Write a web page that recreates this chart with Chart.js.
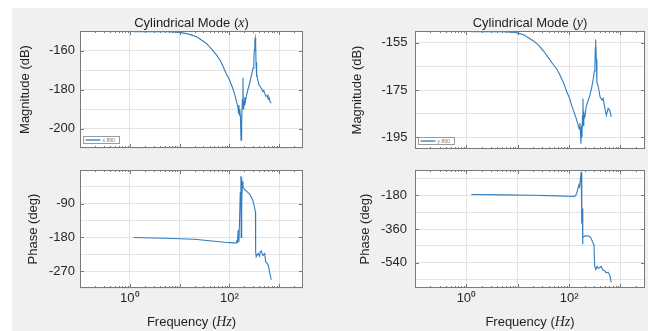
<!DOCTYPE html>
<html>
<head>
<meta charset="utf-8">
<script src="https://cdn.jsdelivr.net/npm/chart.js@4.4.1/dist/chart.umd.min.js"></script>
<style>
  html, body { margin: 0; padding: 0; background: #fff; }
  #fig { position: relative; width: 651px; height: 331px; overflow: hidden; }
  #bg { position: absolute; left: 12px; top: 8px; width: 636px; height: 323px; background: #f0f0f0; }
  canvas { position: absolute; left: 0; top: 0; }
</style>
</head>
<body>
<div id="fig">
  <div id="bg"></div>
  <canvas id="magX" width="651" height="331"></canvas>
  <canvas id="phaseX" width="651" height="331"></canvas>
  <canvas id="magY" width="651" height="331"></canvas>
  <canvas id="phaseY" width="651" height="331"></canvas>
</div>
<script>
// frequency axis (Hz), shared by all four panels
const xGridHz = [0.1, 1, 10, 100, 1000];
const xTickHz = [1, 100];
const xTickText = ['10\u2070', '10\u00B2'];

// Cylindrical mode x : magnitude
const magXHz = [1.2, 3, 6, 10, 13, 17, 22, 27, 35, 43, 54, 65, 74, 85, 100, 115, 126, 138, 148, 152,
  155, 158, 162, 166, 171, 174, 178, 182, 187, 190, 194, 198, 203, 210, 218, 235, 255, 275, 298, 310,
  318, 324, 330, 336, 342, 348, 356, 370, 392, 415, 436, 470, 490, 510, 540, 570, 600, 620, 650, 692];
const magXDb = [-150.3, -150.3, -150.4, -150.7, -151.2, -152, -153, -154.5, -156.5, -159, -162, -165, -168, -171.5, -175, -179, -182, -186, -189, -192,
  -188, -193, -190, -194, -206, -193, -197, -185, -174, -190, -186, -188, -184, -186, -183.5, -180, -176.8, -173, -169, -164,
  -159.5, -155, -153.5, -156, -166, -173.4, -172, -175, -177.7, -178.5, -179.4, -181, -180.5, -182, -183.5, -183, -185, -184, -186, -187];

// Cylindrical mode x : phase
const phaseXHz = [1.2, 5, 20, 50, 80, 107, 125, 137, 140, 145, 150, 155, 160, 165, 170, 172, 175, 178, 182, 187,
  200, 218, 253, 275, 296, 310, 333, 336, 345, 360, 380, 400, 420, 436, 470, 510, 535, 560, 600, 690];
const phaseXDeg = [-180, -182, -185, -190, -193, -194, -194.5, -195, -190, -192, -160, -193, -130, -60, -16, -180, -20, -90, -30, -45,
  -52, -56, -64.5, -72, -82, -92, -112, -218, -231, -226, -223, -230, -218, -216, -228, -223, -246, -248, -253, -293];

// Cylindrical mode y : magnitude
const magYHz = [1.25, 3, 5, 9, 13, 20, 26, 32, 40, 49, 57, 66, 78, 89, 102, 112, 125, 137, 148, 157,
  162, 166, 170, 174, 178, 182, 186, 189, 193, 197, 205, 215, 230, 252, 275, 294, 310, 318, 324, 326,
  332, 338, 347, 360, 380, 400, 438, 460, 490, 529, 575, 617, 660];
const magYDb = [-150.3, -150.3, -150.3, -150.6, -151.6, -154.1, -156.2, -158.6, -161.5, -164.2, -166, -168.5, -172, -175.5, -178.5, -181.5, -184.5, -187, -189.5, -191.5,
  -189, -193, -197.8, -190, -195, -186, -178.6, -190, -184, -187, -186, -182, -180, -177.5, -174, -170.5, -167, -164, -157, -153.6,
  -154, -162, -172, -172.5, -175, -177.9, -179.3, -178.5, -182.1, -185.7, -182.8, -183.5, -186.4];

// Cylindrical mode y : phase
const phaseYHz = [1.25, 5, 20, 60, 100, 127, 135, 142, 148, 155, 160, 165, 172, 175, 178, 180, 183, 186, 200, 216,
  235, 250, 270, 290, 305, 314, 330, 350, 370, 390, 420, 450, 490, 528, 575, 617, 660];
const phaseYDeg = [-176, -178, -180, -183, -185, -186, -180, -165, -144, -125, -135, -100, -54, -180, -330, -250, -441, -405, -398, -396,
  -397, -400, -412, -432, -445, -558, -576, -560, -570, -567, -560, -578, -582, -594, -590, -605, -645];

// y grid / labelled ticks
const magXGrid = [-210, -200, -190, -180, -170, -160, -150];
const magXTicks = [-200, -180, -160];
const magYGrid = [-195, -185, -175, -165, -155];
const magYTicks = [-195, -175, -155];
const phaseXGrid = [-315, -270, -225, -180, -135, -90, -45, 0];
const phaseXTicks = [-270, -180, -90];
const phaseYGrid = [-630, -540, -450, -360, -270, -180, -90];
const phaseYTicks = [-540, -360, -180];

const lineBlue = '#2f7dc0';
const sans = '"Liberation Sans", Arial, sans-serif';
const serif = '"Liberation Serif", "Times New Roman", serif';

function drawRich(ctx, parts, cx, baseY) {
  let w = 0;
  parts.forEach(p => { ctx.font = p.font; w += ctx.measureText(p.text).width; });
  let x = cx - w / 2;
  ctx.textAlign = 'left';
  ctx.textBaseline = 'alphabetic';
  ctx.fillStyle = '#1f1f1f';
  parts.forEach(p => {
    ctx.font = p.font;
    ctx.fillText(p.text, x, baseY);
    x += ctx.measureText(p.text).width;
  });
}

const figureFrame = {
  id: 'figureFrame',
  beforeDraw(chart) {
    const { ctx, chartArea: a } = chart;
    ctx.save();
    ctx.fillStyle = '#ffffff';
    ctx.fillRect(a.left, a.top, a.right - a.left, a.bottom - a.top);
    ctx.restore();
  },
  afterDraw(chart, args, o) {
    const { ctx, chartArea: a, scales } = chart;
    const x = scales.x, y = scales.y;
    ctx.save();
    ctx.strokeStyle = '#7a7a7a';
    ctx.lineWidth = 1;
    ctx.beginPath();
    xGridHz.forEach(d => {
      for (let k = 1; k < 10; k++) {
        const v = d * k;
        if (v <= x.min || v >= x.max) continue;
        const px = Math.round(x.getPixelForValue(v)) + 0.5;
        const len = k === 1 ? 4 : 2;
        ctx.moveTo(px, a.bottom); ctx.lineTo(px, a.bottom - len);
        ctx.moveTo(px, a.top); ctx.lineTo(px, a.top + len);
      }
    });
    o.yMajor.forEach(v => {
      const py = Math.round(y.getPixelForValue(v)) + 0.5;
      ctx.moveTo(a.left, py); ctx.lineTo(a.left + 4, py);
      ctx.moveTo(a.right, py); ctx.lineTo(a.right - 4, py);
    });
    ctx.stroke();
    ctx.strokeRect(Math.round(a.left) + 0.5, Math.round(a.top) + 0.5,
      Math.round(a.right - a.left) - 1, Math.round(a.bottom - a.top) - 1);

    if (o.legend) {
      const lx = a.left + 3.5, ly = a.bottom - 11.5;
      ctx.fillStyle = '#fff';
      ctx.fillRect(lx, ly, 36, 7);
      ctx.strokeStyle = '#9a9a9a';
      ctx.strokeRect(lx, ly, 36, 7);
      ctx.strokeStyle = lineBlue;
      ctx.lineWidth = 1.3;
      ctx.beginPath();
      ctx.moveTo(lx + 2, ly + 3.5); ctx.lineTo(lx + 17, ly + 3.5);
      ctx.stroke();
      ctx.fillStyle = '#777';
      ctx.font = '5px ' + sans;
      ctx.textBaseline = 'middle';
      ctx.fillText(o.legend, lx + 19, ly + 3.8);
    }
    const cx = (a.left + a.right) / 2;
    if (o.title) drawRich(ctx, o.title, cx, 26.5);
    if (o.xTitle) drawRich(ctx, o.xTitle, cx, 325.5);
    ctx.restore();
  }
};

function panel(id, c) {
  const a = c.area;
  const padLeft = c.yTitleX - 7.8 - 2;
  return new Chart(document.getElementById(id), {
    type: 'line',
    data: {
      datasets: [{
        data: c.hz.map((f, i) => ({ x: f, y: c.vals[i] })),
        borderColor: lineBlue,
        borderWidth: 1.1,
        pointRadius: 0,
        tension: 0,
        fill: false
      }]
    },
    options: {
      responsive: false,
      animation: false,
      events: [],
      layout: { padding: { left: padLeft, top: a.t, right: 651 - a.r, bottom: 0 } },
      scales: {
        x: {
          type: 'logarithmic',
          min: 0.1,
          max: 3000,
          afterBuildTicks: s => { s.ticks = xGridHz.map(v => ({ value: v })); },
          afterFit: s => { s.height = 331 - a.b; },
          border: { display: false },
          grid: { color: '#e4e4e4', drawTicks: false },
          ticks: {
            display: c.showX,
            autoSkip: false,
            maxRotation: 0,
            padding: 3,
            color: '#262626',
            font: { family: sans, size: 13 },
            callback: v => { const i = xTickHz.indexOf(v); return i >= 0 ? xTickText[i] : ''; }
          }
        },
        y: {
          type: 'linear',
          min: c.yMin,
          max: c.yMax,
          afterBuildTicks: s => { s.ticks = c.yGrid.map(v => ({ value: v })); },
          afterFit: s => { s.width = a.l - padLeft; },
          border: { display: false },
          grid: { color: '#e4e4e4', drawTicks: false },
          ticks: {
            autoSkip: false,
            padding: c.tickPad,
            color: '#262626',
            font: { family: sans, size: 13 },
            callback: v => c.yTicks.includes(v) ? String(v) : ''
          },
          title: {
            display: true,
            text: c.yTitle,
            color: '#1f1f1f',
            font: { family: sans, size: 13 },
            padding: { top: 2, bottom: 0 }
          }
        }
      },
      plugins: {
        legend: { display: false },
        tooltip: { enabled: false },
        figureFrame: { yMajor: c.yTicks, title: c.title, xTitle: c.xTitle, legend: c.legend }
      }
    },
    plugins: [figureFrame]
  });
}

const font13 = '13px ' + sans;
const ital = 'italic 14px ' + serif;

panel('magX', {
  hz: magXHz, vals: magXDb, area: { l: 80, t: 31, r: 303, b: 148 },
  yMin: -210, yMax: -150, yGrid: magXGrid, yTicks: magXTicks,
  yTitle: 'Magnitude (dB)', yTitleX: 25, tickPad: 5, showX: false,
  title: [{ text: 'Cylindrical Mode (', font: font13 }, { text: 'x', font: ital }, { text: ')', font: font13 }],
  legend: 'x 890'
});
panel('phaseX', {
  hz: phaseXHz, vals: phaseXDeg, area: { l: 80, t: 170, r: 303, b: 288 },
  yMin: -315, yMax: 0, yGrid: phaseXGrid, yTicks: phaseXTicks,
  yTitle: 'Phase (deg)', yTitleX: 33, tickPad: 5, showX: true,
  xTitle: [{ text: 'Frequency (', font: font13 }, { text: 'Hz', font: ital }, { text: ')', font: font13 }]
});
panel('magY', {
  hz: magYHz, vals: magYDb, area: { l: 415, t: 31, r: 645, b: 149 },
  yMin: -200, yMax: -150, yGrid: magYGrid, yTicks: magYTicks,
  yTitle: 'Magnitude (dB)', yTitleX: 357, tickPad: 7.5, showX: false,
  title: [{ text: 'Cylindrical Mode (', font: font13 }, { text: 'y', font: ital }, { text: ')', font: font13 }],
  legend: 'y 890'
});
panel('phaseY', {
  hz: phaseYHz, vals: phaseYDeg, area: { l: 415, t: 170, r: 645, b: 288 },
  yMin: -675, yMax: -45, yGrid: phaseYGrid, yTicks: phaseYTicks,
  yTitle: 'Phase (deg)', yTitleX: 365, tickPad: 8, showX: true,
  xTitle: [{ text: 'Frequency (', font: font13 }, { text: 'Hz', font: ital }, { text: ')', font: font13 }]
});
</script>
</body>
</html>
